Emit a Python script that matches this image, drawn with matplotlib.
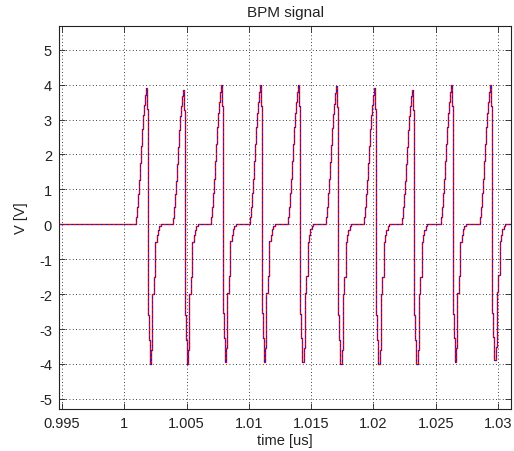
import numpy as np
import matplotlib
matplotlib.use("Agg")
import matplotlib.pyplot as plt

# peak times of the pulses [us]
peak_t = [1.00180, 1.00479, 1.00782, 1.01097, 1.01405,
          1.01710, 1.02013, 1.02320, 1.02628, 1.02944]
# positive peak / negative trough per pulse [V]
peak_v = [3.90, 3.86, 4.00, 4.00, 4.00, 3.95, 3.90, 3.86, 4.00, 4.00]
trough_v = [-4.00, -4.00, -3.93, -3.93, -3.95, -4.00, -4.00, -4.00, -3.95, -3.90]

# staircase shape of one pulse (offset from peak in ns, level for a 4 V pulse)
shape_dt = [-0.96, -0.88, -0.80, -0.72, -0.64, -0.56, -0.48, -0.40, -0.32, -0.24,
            -0.16, -0.08, 0.0, 0.08, 0.16, 0.24, 0.36, 0.44, 0.56, 0.68,
            0.80, 0.88, 1.00, 1.12]
shape_v = [0.0, 0.2, 0.5, 0.9, 1.3, 1.8, 2.3, 2.8, 3.2, 3.5,
           3.8, 4.0, 3.4, -2.6, -3.3, -4.0, -3.6, -2.0, -1.5, -0.5,
           -0.3, -0.15, -0.05, 0.0]

t_start, t_end = 0.9945, 1.0315

t = [t_start]
v = [0.0]
for tp, pk, tr in zip(peak_t, peak_v, trough_v):
    for dt, lv in zip(shape_dt, shape_v):
        t.append(tp + dt * 1e-3)
        v.append(lv * pk / 4.0 if lv >= 0 else lv * abs(tr) / 4.0)
t.append(t_end)
v.append(0.0)
t = np.array(t)
v = np.array(v)

plt.rcParams['font.family'] = ['Liberation Sans', 'DejaVu Sans']
fig = plt.figure(figsize=(5.14, 4.52), dpi=100)
ax = fig.add_axes([0.1148, 0.0929, 0.8794, 0.8474])

ax.plot(t, v, color='red', lw=1.0, drawstyle='steps-post')
ax.plot(t, v, color='#2020c0', lw=0.7, ls=(0, (3, 2)), drawstyle='steps-post')

ax.set_xlim(0.99476, 1.03104)
ax.set_ylim(-5.29, 5.68)
xt = [0.995, 1.0, 1.005, 1.01, 1.015, 1.02, 1.025, 1.03]
ax.set_xticks(xt)
ax.set_xticklabels(['0.995', '1', '1.005', '1.01', '1.015', '1.02', '1.025', '1.03'])
ax.set_yticks(range(-5, 6))
ax.set_yticklabels([str(i) for i in range(-5, 6)])

ax.grid(True, color='black', lw=0.6, ls=(0, (1, 3)))
ax.tick_params(direction='in', top=True, right=True, length=4, width=0.6,
               labelsize=10.5, colors='#222222', pad=5)
for s in ax.spines.values():
    s.set_linewidth(0.8)
    s.set_color('#222222')

ax.set_title('BPM signal', fontsize=11, color='#222222', pad=7)
ax.set_xlabel('time [us]', fontsize=10.5, color='#222222', labelpad=2)
ax.set_ylabel('V [V]', fontsize=10.5, color='#222222', labelpad=8)

fig.savefig('out.png', dpi=100)
